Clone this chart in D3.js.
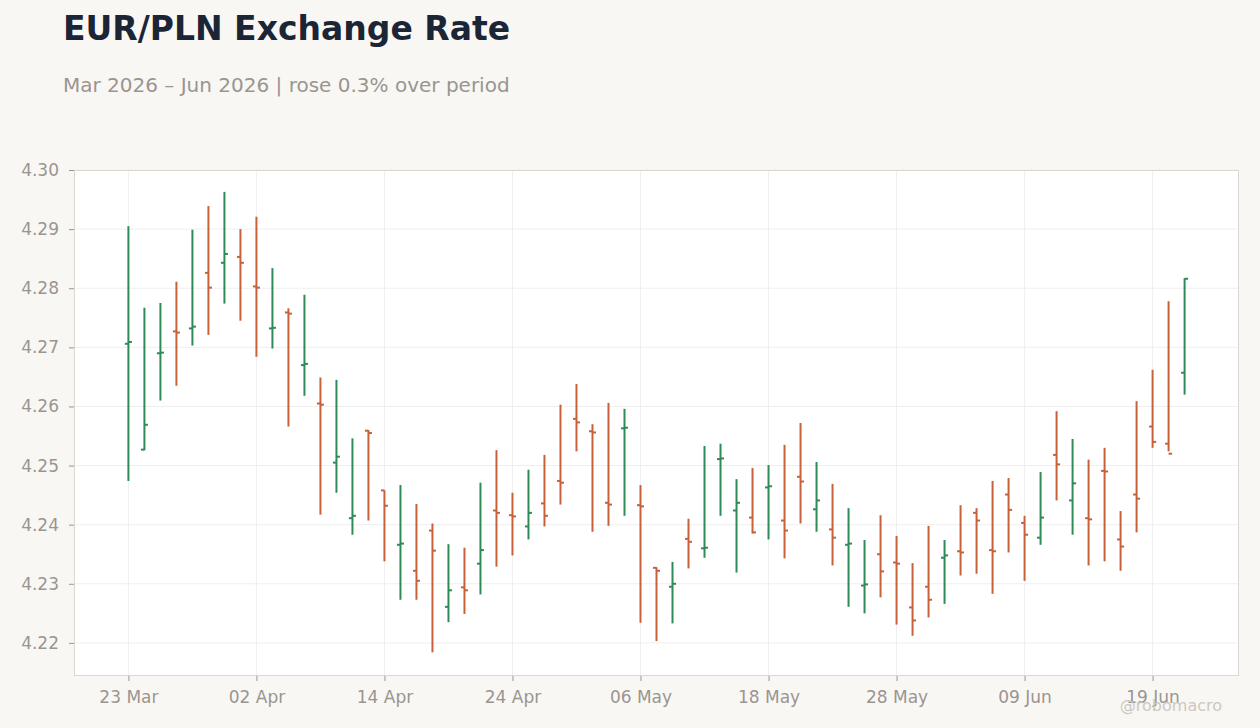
<!DOCTYPE html>
<html>
<head>
<meta charset="utf-8">
<script src="https://cdn.jsdelivr.net/npm/d3@7"></script>
<style>
  html, body { margin: 0; padding: 0; background: #f9f7f4; }
  svg { display: block; font-family: "DejaVu Sans", sans-serif; }
</style>
</head>
<body>
<svg id="chart" width="1260" height="728"></svg>
<script>
const dates = [
  "2026-03-23","2026-03-24","2026-03-25","2026-03-26","2026-03-27",
  "2026-03-30","2026-03-31","2026-04-01","2026-04-02","2026-04-03",
  "2026-04-06","2026-04-07","2026-04-08","2026-04-09","2026-04-10",
  "2026-04-13","2026-04-14","2026-04-15","2026-04-16","2026-04-17",
  "2026-04-20","2026-04-21","2026-04-22","2026-04-23","2026-04-24",
  "2026-04-27","2026-04-28","2026-04-29","2026-04-30","2026-05-01",
  "2026-05-04","2026-05-05","2026-05-06","2026-05-07","2026-05-08",
  "2026-05-11","2026-05-12","2026-05-13","2026-05-14","2026-05-15",
  "2026-05-18","2026-05-19","2026-05-20","2026-05-21","2026-05-22",
  "2026-05-25","2026-05-26","2026-05-27","2026-05-28","2026-05-29",
  "2026-06-01","2026-06-02","2026-06-03","2026-06-04","2026-06-05",
  "2026-06-08","2026-06-09","2026-06-10","2026-06-11","2026-06-12",
  "2026-06-15","2026-06-16","2026-06-17","2026-06-18","2026-06-19",
  "2026-06-22","2026-06-23"
];
const openVals = [
  4.2706,4.2527,4.2690,4.2727,4.2732,4.2826,4.2843,4.2853,4.2803,4.2732,
  4.2759,4.2670,4.2605,4.2505,4.2411,4.2559,4.2458,4.2366,4.2322,4.2390,
  4.2261,4.2294,4.2334,4.2424,4.2416,4.2397,4.2436,4.2474,4.2579,4.2558,
  4.2437,4.2563,4.2433,4.2327,4.2295,4.2376,4.2360,4.2511,4.2424,4.2412,
  4.2463,4.2407,4.2481,4.2426,4.2392,4.2366,4.2297,4.2350,4.2336,4.2260,
  4.2295,4.2344,4.2355,4.2420,4.2357,4.2451,4.2403,4.2378,4.2518,4.2441,
  4.2411,4.2491,4.2375,4.2451,4.2566,4.2537,4.2657
];
const highVals = [
  4.2905,4.2767,4.2775,4.2811,4.2899,4.2939,4.2963,4.2900,4.2921,4.2834,
  4.2766,4.2789,4.2649,4.2645,4.2546,4.2560,4.2458,4.2467,4.2435,4.2402,
  4.2367,4.2361,4.2471,4.2526,4.2454,4.2493,4.2518,4.2603,4.2638,4.2570,
  4.2606,4.2596,4.2467,4.2328,4.2337,4.2410,4.2533,4.2537,4.2477,4.2496,
  4.2501,4.2535,4.2572,4.2506,4.2469,4.2428,4.2374,4.2416,4.2381,4.2335,
  4.2398,4.2374,4.2433,4.2428,4.2474,4.2479,4.2415,4.2489,4.2592,4.2545,
  4.2510,4.2530,4.2423,4.2609,4.2662,4.2778,4.2817
];
const lowVals = [
  4.2474,4.2526,4.2610,4.2635,4.2703,4.2721,4.2774,4.2745,4.2684,4.2698,
  4.2566,4.2618,4.2417,4.2454,4.2383,4.2407,4.2338,4.2273,4.2273,4.2184,
  4.2235,4.2249,4.2282,4.2329,4.2348,4.2375,4.2397,4.2434,4.2524,4.2388,
  4.2398,4.2415,4.2234,4.2203,4.2233,4.2326,4.2344,4.2415,4.2319,4.2385,
  4.2375,4.2343,4.2402,4.2388,4.2331,4.2261,4.2250,4.2277,4.2231,4.2212,
  4.2243,4.2266,4.2314,4.2317,4.2283,4.2353,4.2305,4.2366,4.2441,4.2383,
  4.2331,4.2338,4.2322,4.2387,4.2530,4.2524,4.2620
];
const closeVals = [
  4.2709,4.2569,4.2691,4.2725,4.2735,4.2801,4.2858,4.2843,4.2801,4.2733,
  4.2757,4.2672,4.2603,4.2515,4.2415,4.2555,4.2432,4.2368,4.2305,4.2356,
  4.2289,4.2289,4.2357,4.2420,4.2414,4.2420,4.2415,4.2471,4.2573,4.2556,
  4.2434,4.2564,4.2431,4.2322,4.2300,4.2371,4.2361,4.2512,4.2437,4.2387,
  4.2465,4.2390,4.2473,4.2441,4.2378,4.2368,4.2299,4.2321,4.2334,4.2238,
  4.2273,4.2348,4.2353,4.2407,4.2355,4.2425,4.2383,4.2412,4.2502,4.2470,
  4.2409,4.2490,4.2363,4.2444,4.2540,4.2520,4.2816
];
const yTickVals = [4.22, 4.23, 4.24, 4.25, 4.26, 4.27, 4.28, 4.29, 4.30];
const xTickDates = ["2026-03-23","2026-04-02","2026-04-14","2026-04-24","2026-05-06","2026-05-18","2026-05-28","2026-06-09","2026-06-19"];

const parse = d3.timeParse("%Y-%m-%d");
const fmt = d3.timeFormat("%d %b");
const data = dates.map((d, i) => ({
  date: d, o: openVals[i], h: highVals[i], l: lowVals[i], c: closeVals[i]
}));

const svg = d3.select("#chart");
const W = 1260, H = 728;
const m = { left: 74, right: 21, top: 170, bottom: 52 };
const x0 = m.left, x1 = W - m.right, y0 = H - m.bottom, y1 = m.top;

const x = d3.scalePoint().domain(dates).range([x0, x1]).padding(3.4);
const y = d3.scaleLinear().domain([4.2144, 4.30]).range([y0, y1]);

const UP = "#2e8b57", DOWN = "#c8603c";

// Title / subtitle
svg.append("text").attr("x", 63).attr("y", 40)
  .attr("font-size", 33).attr("font-weight", "bold").attr("fill", "#1c2535")
  .text("EUR/PLN Exchange Rate");
svg.append("text").attr("x", 63).attr("y", 92)
  .attr("font-size", 20).attr("fill", "#9a9590")
  .text("Mar 2026 \u2013 Jun 2026 | rose 0.3% over period");

// Plot background
svg.append("rect").attr("x", x0).attr("y", y1).attr("width", x1 - x0).attr("height", y0 - y1)
  .attr("fill", "#ffffff");

// Grid
const grid = svg.append("g");
grid.selectAll("line.hy").data(yTickVals).join("line")
  .attr("x1", x0).attr("x2", x1).attr("y1", d => y(d)).attr("y2", d => y(d))
  .attr("stroke", "#efefef").attr("stroke-width", 1);
grid.selectAll("line.vx").data(xTickDates).join("line")
  .attr("x1", d => x(d)).attr("x2", d => x(d)).attr("y1", y1).attr("y2", y0)
  .attr("stroke", "#efefef").attr("stroke-width", 1);

// Border
svg.append("rect").attr("x", x0 + 0.5).attr("y", y1 + 0.5).attr("width", x1 - x0 - 1).attr("height", y0 - y1 - 1)
  .attr("fill", "none").attr("stroke", "#dcd7d1").attr("stroke-width", 1);

// Axes
const yAxis = svg.append("g").attr("transform", `translate(${x0},0)`)
  .call(d3.axisLeft(y).tickValues(yTickVals).tickFormat(d3.format(".2f")).tickSize(5).tickPadding(10));
const xAxis = svg.append("g").attr("transform", `translate(0,${y0})`)
  .call(d3.axisBottom(x).tickValues(xTickDates).tickFormat(d => fmt(parse(d))).tickSize(5).tickPadding(10));
[yAxis, xAxis].forEach(a => {
  a.select(".domain").remove();
  a.selectAll(".tick line").attr("stroke", "#9a9590");
  a.selectAll(".tick text").attr("fill", "#9a9590").attr("font-size", 17)
    .attr("font-family", "DejaVu Sans, sans-serif");
});

// OHLC bars
const bars = svg.append("g");
const tw = 3.5;
const g = bars.selectAll("g.bar").data(data).join("g")
  .attr("stroke", d => d.c >= d.o ? UP : DOWN).attr("stroke-width", 2);
g.append("line")
  .attr("x1", d => x(d.date)).attr("x2", d => x(d.date))
  .attr("y1", d => y(d.h)).attr("y2", d => y(d.l));
g.append("line")
  .attr("x1", d => x(d.date) - tw).attr("x2", d => x(d.date))
  .attr("y1", d => y(d.o)).attr("y2", d => y(d.o));
g.append("line")
  .attr("x1", d => x(d.date)).attr("x2", d => x(d.date) + tw)
  .attr("y1", d => y(d.c)).attr("y2", d => y(d.c));

// Watermark
svg.append("text").attr("x", 1222).attr("y", 711).attr("text-anchor", "end")
  .attr("font-size", 16).attr("fill", "#ccc8c3").text("@robomacro");
</script>
</body>
</html>
